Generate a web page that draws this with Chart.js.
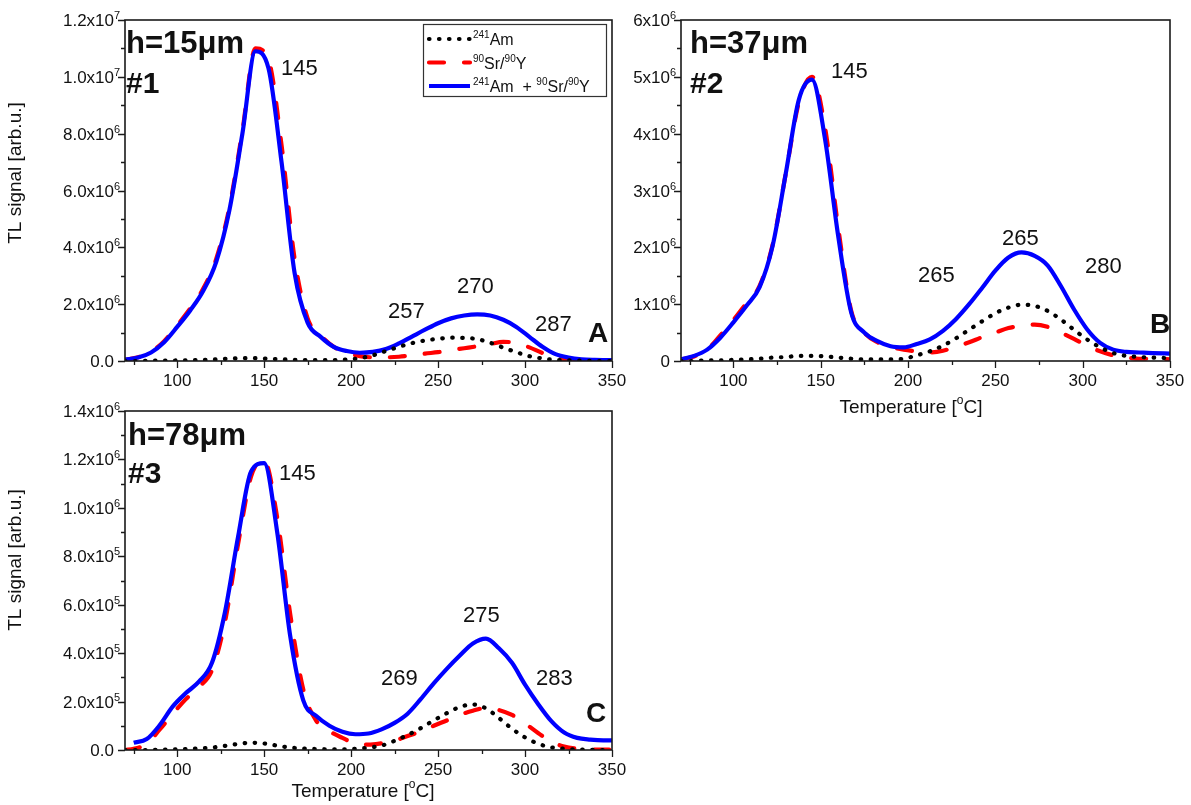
<!DOCTYPE html>
<html>
<head>
<meta charset="utf-8">
<title>TL glow curves</title>
<script src="https://cdn.jsdelivr.net/npm/chart.js@4.4.1/dist/chart.umd.min.js"></script>
<style>
    html, body { margin: 0; padding: 0; background: #fff; }
    body { width: 1191px; height: 805px; position: relative; overflow: hidden; }
    canvas { position: absolute; }
</style>
</head>
<body>
<canvas id="panel-a" width="640" height="395" style="left:0;top:0"></canvas>
<canvas id="panel-b" width="591" height="430" style="left:600px;top:0"></canvas>
<canvas id="panel-c" width="640" height="414" style="left:0;top:391px"></canvas>
<script>
'use strict';

// temperature grids [°C]
const tempAB = [70, 77.5, 85, 92.5, 100, 107.5, 115, 122.5, 130, 137.5, 145, 152.5, 160, 167.5, 175, 182.5,
    190, 197.5, 205, 212.5, 220, 227.5, 235, 242.5, 250, 257.5, 265, 272.5, 280, 287.5, 295, 302.5, 310,
    317.5, 325, 332.5, 340, 350];
const tempC = [70, 75, 82.5, 90, 97.5, 105, 112.5, 120, 127.5, 135, 142.5, 150, 157.5, 165, 172.5, 180,
    187.5, 195, 202.5, 210, 217.5, 225, 232.5, 240, 247.5, 255, 262.5, 270, 277.5, 285, 292.5, 300, 307.5,
    315, 322.5, 330, 337.5, 345, 350];

// h = 15 um, signal in units of 10^6
const amA = [0, 0, 0.01, 0.01, 0.02, 0.03, 0.04, 0.06, 0.08, 0.1, 0.1, 0.08, 0.06, 0.04, 0.03, 0.03,
    0.03, 0.05, 0.1, 0.2, 0.35, 0.5, 0.63, 0.72, 0.78, 0.82, 0.81, 0.77, 0.64, 0.47, 0.31, 0.17, 0.09,
    0.04, 0.02, 0.01, 0, 0];
const srA = [0.04, 0.13, 0.32, 0.7, 1.25, 1.85, 2.55, 3.6, 5.4, 8.1, 11.0, 10.6, 7.6, 3.6, 1.5, 0.9,
    0.5, 0.3, 0.17, 0.13, 0.13, 0.15, 0.2, 0.26, 0.31, 0.38, 0.45, 0.52, 0.6, 0.67, 0.64, 0.48, 0.28,
    0.12, 0.05, 0.02, 0.01, 0.01];
const sumA = [0.05, 0.12, 0.3, 0.66, 1.2, 1.78, 2.47, 3.5, 5.3, 8.0, 10.9, 10.3, 7.0, 3.1, 1.35, 0.85,
    0.5, 0.35, 0.29, 0.32, 0.42, 0.62, 0.86, 1.1, 1.33, 1.5, 1.6, 1.64, 1.6, 1.45, 1.2, 0.85, 0.5,
    0.24, 0.12, 0.06, 0.04, 0.03];

// h = 37 um, signal in units of 10^6
const amB = [0, 0, 0.01, 0.01, 0.02, 0.03, 0.04, 0.06, 0.07, 0.09, 0.09, 0.08, 0.06, 0.04, 0.03, 0.03,
    0.03, 0.04, 0.1, 0.17, 0.27, 0.4, 0.55, 0.7, 0.84, 0.94, 0.99, 0.97, 0.88, 0.73, 0.55, 0.38, 0.24,
    0.14, 0.09, 0.07, 0.06, 0.05];
const srB = [0.03, 0.08, 0.2, 0.45, 0.72, 1.02, 1.32, 2.05, 3.3, 4.55, 5.0, 4.1, 2.35, 0.88, 0.5, 0.33,
    0.25, 0.2, 0.17, 0.15, 0.18, 0.25, 0.33, 0.42, 0.5, 0.58, 0.62, 0.64, 0.6, 0.5, 0.39, 0.27, 0.17,
    0.1, 0.06, 0.04, 0.04, 0.03];
const sumB = [0.03, 0.09, 0.2, 0.41, 0.68, 0.97, 1.3, 2.03, 3.3, 4.6, 4.95, 3.9, 2.2, 0.85, 0.5, 0.35,
    0.26, 0.24, 0.3, 0.38, 0.53, 0.74, 1.0, 1.29, 1.59, 1.82, 1.91, 1.85, 1.68, 1.32, 0.91, 0.56, 0.32,
    0.2, 0.16, 0.15, 0.14, 0.13];

// h = 78 um, signal in units of 10^5
const amC = [0, 0, 0, 0.01, 0.02, 0.04, 0.07, 0.1, 0.17, 0.25, 0.3, 0.27, 0.18, 0.1, 0.06, 0.04,
    0.03, 0.03, 0.05, 0.1, 0.18, 0.38, 0.62, 0.9, 1.22, 1.52, 1.78, 1.88, 1.72, 1.32, 0.88, 0.52, 0.26,
    0.11, 0.05, 0.02, 0.01, 0, 0];
const srC = [0, 0.05, 0.25, 0.85, 1.5, 2.1, 2.6, 3.3, 5.3, 8.5, 11.3, 11.95, 9.6, 5.6, 2.5, 1.2,
    0.78, 0.5, 0.27, 0.22, 0.28, 0.38, 0.58, 0.76, 1.0, 1.22, 1.45, 1.62, 1.74, 1.65, 1.45, 1.1, 0.7,
    0.35, 0.14, 0.05, 0.02, 0.02, 0.02];
const sumC = [null, 0.3, 0.45, 1.03, 1.8, 2.35, 2.82, 3.6, 5.7, 8.8, 11.5, 11.85, 9.0, 4.7, 2.05, 1.4,
    1.0, 0.75, 0.65, 0.68, 0.85, 1.12, 1.5, 2.1, 2.75, 3.35, 3.9, 4.4, 4.6, 4.2, 3.6, 2.7, 1.9,
    1.2, 0.72, 0.5, 0.43, 0.4, 0.4];

// axis ticks; {n} is written as a superscript
const xTicks = [100, 150, 200, 250, 300, 350];
const xMinorTicks = [75, 125, 175, 225, 275, 325];
const yTicksA = [0, 2, 4, 6, 8, 10, 12];
const yLabelsA = ['0.0', '2.0x10{6}', '4.0x10{6}', '6.0x10{6}', '8.0x10{6}', '1.0x10{7}', '1.2x10{7}'];
const yTicksB = [0, 1, 2, 3, 4, 5, 6];
const yLabelsB = ['0', '1x10{6}', '2x10{6}', '3x10{6}', '4x10{6}', '5x10{6}', '6x10{6}'];
const yTicksC = [0, 2, 4, 6, 8, 10, 12, 14];
const yLabelsC = ['0.0', '2.0x10{5}', '4.0x10{5}', '6.0x10{5}', '8.0x10{5}', '1.0x10{6}', '1.2x10{6}', '1.4x10{6}'];

const legendLabels = ['{241}Am', '{90}Sr/{90}Y', '{241}Am  + {90}Sr/{90}Y'];
const yTitle = 'TL signal [arb.u.]';
const xTitle = 'Temperature [{o}C]';

const FONT = 'Arial, "Liberation Sans", sans-serif';
const BOLD = 'bold ';

/**
 * Splits "1.0x10{6}" into [text, isSuperscript] pieces
 */
const parseRich = function (str) {
    const parts = [];
    str.split(/(\{[^}]*\})/).forEach(function (s) {
        if (!s) return;
        if (s.charAt(0) === '{') parts.push([s.slice(1, -1), true]);
        else parts.push([s, false]);
    });
    return parts;
};

/**
 * Draws text with superscripts; align is where x sits ('left' | 'right' | 'center')
 */
const drawRich = function (ctx, str, x, y, align, size, supSize, rise) {
    const parts = parseRich(str);
    let w = 0;
    parts.forEach(function (p) {
        ctx.font = (p[1] ? supSize : size) + 'px ' + FONT;
        w += ctx.measureText(p[0]).width;
    });
    let cx = align === 'right' ? x - w : (align === 'center' ? x - w / 2 : x);
    parts.forEach(function (p) {
        ctx.font = (p[1] ? supSize : size) + 'px ' + FONT;
        ctx.fillText(p[0], cx, p[1] ? y - rise : y);
        cx += ctx.measureText(p[0]).width;
    });
};

// tick label: mantissa ends at a fixed spot, the exponent hangs off to the right
const drawTickLabel = function (ctx, str, x, y) {
    const parts = parseRich(str);
    ctx.font = '17px ' + FONT;
    ctx.textAlign = 'right';
    ctx.fillText(parts[0][0], x, y);
    ctx.textAlign = 'left';
    if (parts.length > 1) {
        ctx.font = '11px ' + FONT;
        ctx.fillText(parts[1][0], x, y - 7);
    }
};

const toXY = function (xs, ys) {
    return xs.map(function (x, i) {
        return {x: x, y: ys[i]};
    });
};

/**
 * Frame, ticks, labels, legend and notes for one panel
 */
const decorPlugin = function (p) {
    return {
        id: 'decor',
        afterDraw: function (chart) {
            const ctx = chart.ctx;
            const a = chart.chartArea;
            const xs = chart.scales.x;
            const ys = chart.scales.y;

            ctx.save();
            ctx.strokeStyle = '#1a1a1a';
            ctx.lineWidth = 1.6;
            ctx.strokeRect(a.left, a.top, a.right - a.left, a.bottom - a.top);

            // tick marks
            ctx.lineWidth = 1.3;
            ctx.beginPath();
            xTicks.forEach(function (v) {
                const px = Math.round(xs.getPixelForValue(v)) + 0.5;
                ctx.moveTo(px, a.bottom);
                ctx.lineTo(px, a.bottom + 7);
            });
            xMinorTicks.forEach(function (v) {
                const px = Math.round(xs.getPixelForValue(v)) + 0.5;
                ctx.moveTo(px, a.bottom);
                ctx.lineTo(px, a.bottom + 4);
            });
            p.yTicks.forEach(function (v) {
                const py = Math.round(ys.getPixelForValue(v)) + 0.5;
                ctx.moveTo(a.left, py);
                ctx.lineTo(a.left - 7, py);
            });
            p.yMinor.forEach(function (v) {
                const py = Math.round(ys.getPixelForValue(v)) + 0.5;
                ctx.moveTo(a.left, py);
                ctx.lineTo(a.left - 4, py);
            });
            ctx.stroke();

            // tick labels
            ctx.fillStyle = '#111';
            ctx.textBaseline = 'alphabetic';
            xTicks.forEach(function (v) {
                drawRich(ctx, String(v), xs.getPixelForValue(v), a.bottom + 25, 'center', 17, 11, 7);
            });
            p.yTicks.forEach(function (v, i) {
                drawTickLabel(ctx, p.yLabels[i], a.left - 11, ys.getPixelForValue(v) + 6);
            });

            // axis titles
            if (p.yTitleAt) {
                ctx.save();
                ctx.translate(a.left + p.yTitleAt[0], a.top + p.yTitleAt[1]);
                ctx.rotate(-Math.PI / 2);
                ctx.font = '19px ' + FONT;
                ctx.textAlign = 'center';
                ctx.fillText(yTitle, 0, 0);
                ctx.restore();
            }
            if (p.xTitleAt) {
                ctx.textAlign = 'left';
                drawRich(ctx, xTitle, a.left + p.xTitleAt[0], a.bottom + p.xTitleAt[1], 'center', 19, 12, 9);
            }

            // legend built from the dataset styles
            if (p.legendAt) {
                const lx = a.left + p.legendAt[0];
                const ly = a.top + p.legendAt[1];
                ctx.lineWidth = 1.2;
                ctx.strokeStyle = '#333';
                ctx.strokeRect(lx + 0.5, ly + 0.5, 183, 72);
                chart.data.datasets.forEach(function (ds, i) {
                    const rowY = ly + 15 + i * 23.5;
                    ctx.save();
                    ctx.strokeStyle = ds.borderColor;
                    ctx.lineWidth = ds.borderWidth;
                    ctx.lineCap = ds.borderCapStyle || 'butt';
                    ctx.setLineDash(ds.borderDash || []);
                    ctx.beginPath();
                    ctx.moveTo(lx + 6, rowY);
                    ctx.lineTo(lx + 47, rowY);
                    ctx.stroke();
                    ctx.restore();
                    ctx.textAlign = 'left';
                    drawRich(ctx, legendLabels[i], lx + 50, rowY + 6, 'left', 16, 10, 7);
                });
            }

            // peak temperatures and panel labels
            ctx.textAlign = 'left';
            p.notes.forEach(function (n) {
                ctx.font = n[3] + FONT;
                ctx.fillText(n[0], a.left + n[1], a.top + n[2]);
            });
            ctx.restore();
        }
    };
};

const makePanel = function (id, p) {
    return new Chart(document.getElementById(id), {
        type: 'line',
        data: {
            datasets: [{
                label: '241Am',
                data: toXY(p.temp, p.am),
                borderColor: '#000000',
                borderWidth: 4.2,
                borderDash: [0.5, 9.5],
                borderCapStyle: 'round',
                order: 0
            }, {
                label: '90Sr/90Y',
                data: toXY(p.temp, p.sr),
                borderColor: '#ff0000',
                borderWidth: 4.2,
                borderDash: [15, 20],
                borderCapStyle: 'round',
                order: 2
            }, {
                label: '241Am + 90Sr/90Y',
                data: toXY(p.temp, p.sum),
                borderColor: '#0000ff',
                borderWidth: 4.2,
                order: 1
            }]
        },
        options: {
            responsive: false,
            devicePixelRatio: 1,
            animation: false,
            layout: {padding: p.padding},
            elements: {
                point: {radius: 0},
                line: {cubicInterpolationMode: 'monotone'}
            },
            plugins: {
                legend: {display: false},
                tooltip: {enabled: false}
            },
            scales: {
                x: {
                    type: 'linear',
                    min: 70,
                    max: 350,
                    ticks: {display: false},
                    grid: {display: false},
                    border: {display: false},
                    afterFit: function (s) { s.height = p.xAxisHeight; }
                },
                y: {
                    type: 'linear',
                    min: 0,
                    max: p.yTicks[p.yTicks.length - 1],
                    ticks: {display: false},
                    grid: {display: false},
                    border: {display: false},
                    afterFit: function (s) { s.width = p.yAxisWidth; }
                }
            }
        },
        plugins: [decorPlugin(p)]
    });
};

const big = '22px ';

makePanel('panel-a', {
    temp: tempAB, am: amA, sr: srA, sum: sumA,
    yTicks: yTicksA, yLabels: yLabelsA, yMinor: [1, 3, 5, 7, 9, 11],
    padding: {top: 20, right: 28, left: 0, bottom: 0},
    yAxisWidth: 125, xAxisHeight: 34,
    yTitleAt: [-104, 153],
    legendAt: [298, 4],
    notes: [
        ['h=15\u03bcm', 1, 33, BOLD + '31px '],
        ['#1', 1, 73, BOLD + '30px '],
        ['145', 156, 55, big],
        ['257', 263, 298, big],
        ['270', 332, 273, big],
        ['287', 410, 311, big],
        ['A', 463, 322, BOLD + '28px ']
    ]
});

makePanel('panel-b', {
    temp: tempAB, am: amB, sr: srB, sum: sumB,
    yTicks: yTicksB, yLabels: yLabelsB, yMinor: [0.5, 1.5, 2.5, 3.5, 4.5, 5.5],
    padding: {top: 20, right: 21, left: 0, bottom: 0},
    yAxisWidth: 81, xAxisHeight: 69,
    xTitleAt: [230, 52],
    notes: [
        ['h=37\u03bcm', 9, 33, BOLD + '31px '],
        ['#2', 9, 73, BOLD + '30px '],
        ['145', 150, 58, big],
        ['265', 321, 225, big],
        ['265', 237, 262, big],
        ['280', 404, 253, big],
        ['B', 469, 313, BOLD + '28px ']
    ]
});

makePanel('panel-c', {
    temp: tempC, am: amC, sr: srC, sum: sumC,
    yTicks: yTicksC, yLabels: yLabelsC, yMinor: [1, 3, 5, 7, 9, 11, 13],
    padding: {top: 20, right: 28, left: 0, bottom: 0},
    yAxisWidth: 125, xAxisHeight: 55,
    yTitleAt: [-104, 149],
    xTitleAt: [238, 47],
    notes: [
        ['h=78\u03bcm', 3, 34, BOLD + '31px '],
        ['#3', 3, 72, BOLD + '30px '],
        ['145', 154, 69, big],
        ['275', 338, 211, big],
        ['269', 256, 274, big],
        ['283', 411, 274, big],
        ['C', 461, 311, BOLD + '28px ']
    ]
});
</script>
</body>
</html>
